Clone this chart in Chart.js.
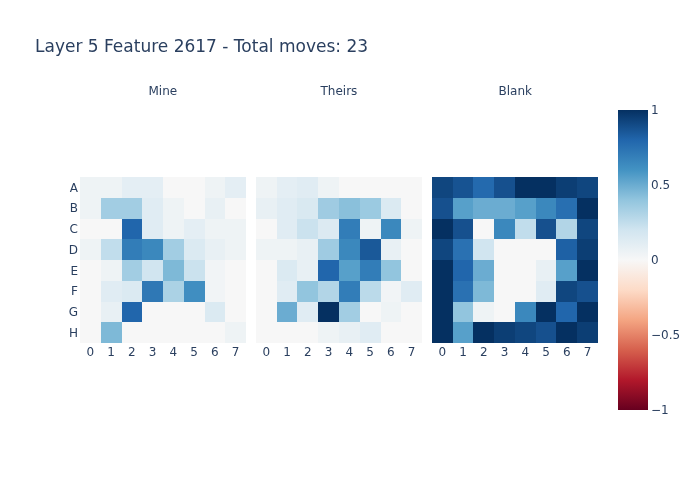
<!DOCTYPE html>
<html><head><meta charset="utf-8">
<script src="https://cdn.jsdelivr.net/npm/chart.js@4"></script>
<style>
body{margin:0;background:#fff}
#wrap{position:relative;width:700px;height:500px;font-family:"DejaVu Sans",Verdana,sans-serif;color:#2a3f5f;background:#fff}
canvas{position:absolute;left:0;top:0}
.t{position:absolute;white-space:nowrap;line-height:14px}
</style></head><body>
<div id="wrap">
<canvas id="main" width="700" height="500"></canvas>
<canvas id="cb" width="700" height="500"></canvas>
<div id="title" class="t" style="left:35px;top:37px;font-size:17px;line-height:18px"></div>
</div>
<script>
const chartTitle = 'Layer 5 Feature 2617 - Total moves: 23';
const rowLabels = ['A','B','C','D','E','F','G','H'];
const colLabels = ['0','1','2','3','4','5','6','7'];
const panelNames = ['Mine','Theirs','Blank'];
const mineValues = [
  [0.05,0.05,0.10,0.10,0.00,0.00,0.05,0.10],
  [0.05,0.35,0.35,0.12,0.05,0.00,0.08,0.00],
  [0.00,0.00,0.80,0.12,0.05,0.10,0.05,0.05],
  [0.05,0.25,0.70,0.65,0.35,0.15,0.08,0.05],
  [0.00,0.05,0.35,0.20,0.45,0.22,0.03,0.00],
  [0.00,0.12,0.15,0.72,0.32,0.62,0.03,0.00],
  [0.00,0.08,0.80,0.00,0.00,0.00,0.15,0.00],
  [0.00,0.45,0.00,0.00,0.00,0.00,0.00,0.05]
];
const theirsValues = [
  [0.05,0.10,0.12,0.05,0.00,0.00,0.00,0.00],
  [0.08,0.12,0.16,0.36,0.42,0.37,0.15,0.00],
  [0.00,0.12,0.22,0.14,0.70,0.05,0.65,0.05],
  [0.05,0.05,0.08,0.36,0.65,0.85,0.08,0.00],
  [0.00,0.15,0.08,0.80,0.55,0.70,0.40,0.00],
  [0.00,0.12,0.40,0.30,0.70,0.27,0.03,0.12],
  [0.00,0.50,0.12,1.00,0.35,0.00,0.05,0.00],
  [0.00,0.00,0.00,0.05,0.08,0.12,0.00,0.00]
];
const blankValues = [
  [0.92,0.87,0.78,0.88,1.00,1.00,0.95,0.92],
  [0.88,0.55,0.50,0.50,0.55,0.65,0.76,1.00],
  [1.00,0.88,0.00,0.65,0.25,0.88,0.30,0.92],
  [0.92,0.75,0.20,0.00,0.00,0.00,0.82,0.95],
  [1.00,0.80,0.50,0.00,0.00,0.08,0.55,1.00],
  [1.00,0.75,0.45,0.00,0.00,0.12,0.92,0.88],
  [1.00,0.40,0.05,0.00,0.65,1.00,0.80,1.00],
  [1.00,0.55,1.00,0.95,0.92,0.88,1.00,0.95]
];
const colorbarTicks = [-1,-0.5,0,0.5,1];
const rdbu = [[103,0,31],[178,24,43],[214,96,77],[244,165,130],[253,219,199],[247,247,247],
              [209,229,240],[146,197,222],[67,147,195],[33,102,172],[5,48,97]];

const panels = [mineValues, theirsValues, blankValues];
const TXT = '#2a3f5f';
const FONT = {family:'"DejaVu Sans", Verdana, sans-serif', size:12};
const GAP = 0.48;
const PW = 8 + GAP;

function colorFor(v){
  let t = (v + 1) / 2 * 10;
  t = Math.max(0, Math.min(10, t));
  const i = Math.min(9, Math.floor(t)), f = t - i;
  const a = rdbu[i], b = rdbu[i+1];
  return 'rgb(' + a.map((c,k)=>Math.round(c + (b[k]-c)*f)).join(',') + ')';
}

document.getElementById('title').textContent = chartTitle;
const wrap = document.getElementById('wrap');
const titleDivs = panelNames.map(n => {
  const d = document.createElement('div');
  d.className = 't'; d.style.fontSize = '12px'; d.textContent = n;
  wrap.appendChild(d); return d;
});

const xTickValues = [];
panels.forEach((_, p) => colLabels.forEach((_, c) => xTickValues.push(p*PW + c + 0.5)));

const heatPlugin = {
  id: 'heat',
  beforeDatasetsDraw(chart){
    const ctx = chart.ctx, xs = chart.scales.x, ys = chart.scales.y;
    panels.forEach((vals, p) => {
      vals.forEach((row, r) => {
        row.forEach((v, c) => {
          const x0 = xs.getPixelForValue(p*PW + c), x1 = xs.getPixelForValue(p*PW + c + 1);
          const y0 = ys.getPixelForValue(r), y1 = ys.getPixelForValue(r + 1);
          ctx.fillStyle = colorFor(v);
          ctx.fillRect(Math.round(x0), Math.round(Math.min(y0,y1)), Math.round(x1)-Math.round(x0), Math.round(Math.max(y0,y1))-Math.round(Math.min(y0,y1)));
        });
      });
    });
  },
  afterRender(chart){
    const xs = chart.scales.x;
    titleDivs.forEach((d, p) => {
      const cx = xs.getPixelForValue(p*PW + 4);
      d.style.left = (cx - d.offsetWidth/2) + 'px';
      d.style.top = '84px';
    });
  }
};

new Chart(document.getElementById('main'), {
  type: 'scatter',
  data: { datasets: [] },
  plugins: [heatPlugin],
  options: {
    responsive: false, animation: false, devicePixelRatio: 1,
    layout: { padding: { left: 0, top: 177, right: 102, bottom: 127 } },
    plugins: { legend: {display:false}, tooltip: {enabled:false} },
    scales: {
      x: {
        type: 'linear', min: 0, max: 3*8 + 2*GAP,
        grid: {display:false, drawTicks:false}, border: {display:false},
        afterBuildTicks: s => { s.ticks = xTickValues.map(v => ({value:v})); },
        afterFit: s => { s.height = 30; },
        ticks: { color: TXT, font: FONT, padding: 3, autoSkip: false, maxRotation: 0,
          callback: (v, i) => colLabels[i % colLabels.length] }
      },
      y: {
        type: 'linear', min: 0, max: 8, reverse: true,
        grid: {display:false, drawTicks:false}, border: {display:false},
        afterBuildTicks: s => { s.ticks = rowLabels.map((_, i) => ({value: i + 0.5})); },
        afterFit: s => { s.width = 80; },
        ticks: { color: TXT, font: FONT, padding: 2, autoSkip: false, labelOffset: 1,
          callback: (v, i) => rowLabels[i] }
      }
    }
  }
});

const cbPlugin = {
  id: 'cbar',
  beforeDatasetsDraw(chart){
    const ctx = chart.ctx, a = chart.chartArea, ys = chart.scales.y;
    const g = ctx.createLinearGradient(0, ys.getPixelForValue(-1), 0, ys.getPixelForValue(1));
    rdbu.forEach((c, i) => g.addColorStop(i/10, 'rgb(' + c.join(',') + ')'));
    ctx.fillStyle = g;
    ctx.fillRect(a.left, a.top, a.right - a.left, a.bottom - a.top);
  }
};

new Chart(document.getElementById('cb'), {
  type: 'scatter',
  data: { datasets: [] },
  plugins: [cbPlugin],
  options: {
    responsive: false, animation: false, devicePixelRatio: 1,
    layout: { padding: { left: 618, top: 110, right: 12, bottom: 90 } },
    plugins: { legend: {display:false}, tooltip: {enabled:false} },
    scales: {
      x: { type:'linear', display:false, min:0, max:1 },
      y: {
        type:'linear', position:'right', min:-1, max:1,
        grid: {display:false, drawTicks:false}, border: {display:false},
        afterBuildTicks: s => { s.ticks = colorbarTicks.map(v => ({value:v})); },
        afterFit: s => { s.width = 40; },
        ticks: { color: TXT, font: FONT, padding: 3, labelOffset: 1,
          callback: v => v < 0 ? '\u2212' + Math.abs(v) : String(v) }
      }
    }
  }
});
</script>
</body></html>
